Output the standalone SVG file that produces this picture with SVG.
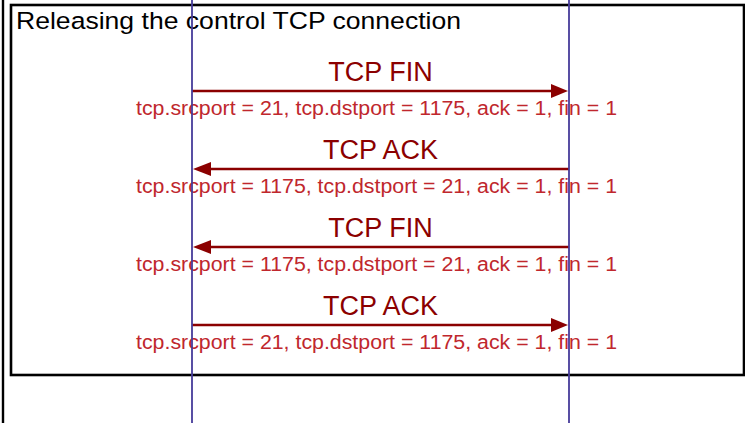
<svg xmlns="http://www.w3.org/2000/svg" width="745" height="423" viewBox="0 0 745 423">
  <defs>
    <style>
      .frame { fill: none; stroke: #000; stroke-width: 2.6; }
      .edge { stroke: #000; stroke-width: 2.4; }
      .title { font-family: "Liberation Sans", Arial, sans-serif; font-size: 24.5px; fill: #000; }
      .msg { font-family: "Liberation Sans", Arial, sans-serif; font-size: 27px; fill: #8b0000; text-anchor: middle; }
      .detail { font-family: "Liberation Sans", Arial, sans-serif; font-size: 20px; fill: #c0272d; }
      .arrow { stroke: #8b0000; stroke-width: 2.4; fill: none; }
      .life { stroke: #463b9a; stroke-width: 1.8; }
      .head { fill: #8b0000; }
    </style>
  </defs>

  <rect width="745" height="423" fill="#fff"/>

  <!-- outer frame edge and the enclosing fragment box -->
  <line class="edge" x1="3" y1="0" x2="3" y2="423"/>
  <g id="fragment">
    <rect class="frame" x="11" y="5" width="733" height="370"/>
    <text class="title" x="16" y="29" textLength="445" lengthAdjust="spacingAndGlyphs">Releasing the control TCP connection</text>
  </g>

  <!-- message labels -->
  <g id="msg1-label">
    <text class="msg" x="380.5" y="81">TCP FIN</text>
    <text class="detail" x="136" y="115" textLength="481" lengthAdjust="spacingAndGlyphs">tcp.srcport = 21, tcp.dstport = 1175, ack = 1, fin = 1</text>
  </g>
  <g id="msg2-label">
    <text class="msg" x="380.5" y="159">TCP ACK</text>
    <text class="detail" x="136" y="193" textLength="481" lengthAdjust="spacingAndGlyphs">tcp.srcport = 1175, tcp.dstport = 21, ack = 1, fin = 1</text>
  </g>
  <g id="msg3-label">
    <text class="msg" x="380.5" y="237">TCP FIN</text>
    <text class="detail" x="136" y="271" textLength="481" lengthAdjust="spacingAndGlyphs">tcp.srcport = 1175, tcp.dstport = 21, ack = 1, fin = 1</text>
  </g>
  <g id="msg4-label">
    <text class="msg" x="380.5" y="315">TCP ACK</text>
    <text class="detail" x="136" y="349" textLength="481" lengthAdjust="spacingAndGlyphs">tcp.srcport = 21, tcp.dstport = 1175, ack = 1, fin = 1</text>
  </g>

  <!-- connectors -->
  <g id="connectors">
    <line class="arrow" x1="192" y1="91" x2="552" y2="91"/>
    <polygon class="head" points="551,84 568,91 551,98"/>
    <line class="arrow" x1="210" y1="169" x2="569" y2="169"/>
    <polygon class="head" points="211,162 193,169 211,176"/>
    <line class="arrow" x1="210" y1="247" x2="569" y2="247"/>
    <polygon class="head" points="211,240 193,247 211,254"/>
    <line class="arrow" x1="192" y1="325" x2="552" y2="325"/>
    <polygon class="head" points="551,318 568,325 551,332"/>
  </g>

  <!-- lifelines -->
  <g id="client">
    <line class="life" x1="192" y1="0" x2="192" y2="423"/>
  </g>
  <g id="server">
    <line class="life" x1="569" y1="0" x2="569" y2="423"/>
  </g>
</svg>
